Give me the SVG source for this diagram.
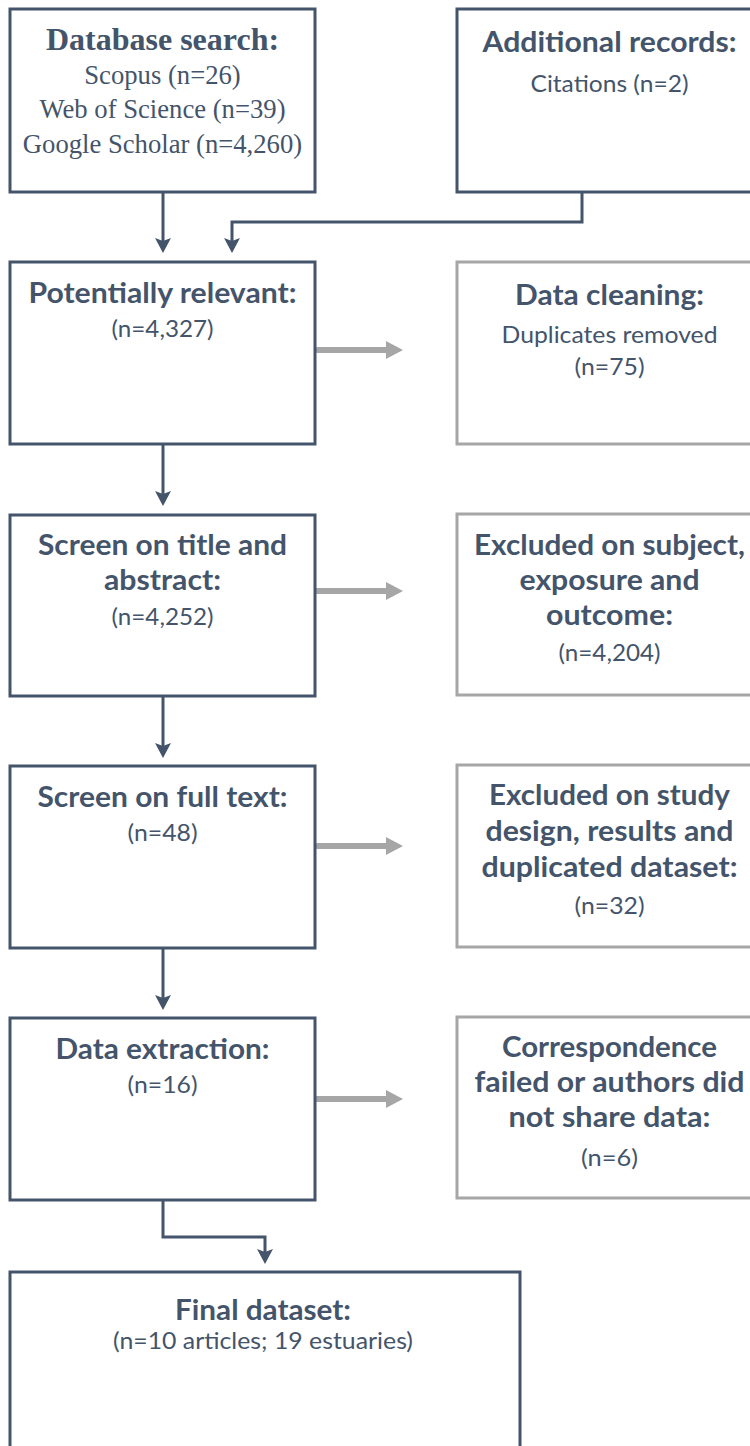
<svg xmlns="http://www.w3.org/2000/svg" width="750" height="1446" viewBox="0 0 750 1446">
  <style>
    .box { fill: #FFFFFF; stroke: #44546A; stroke-width: 3; }
    .gbox { fill: #FFFFFF; stroke: #A6A6A6; stroke-width: 3; }
    .t { font-family: Lato, "Open Sans", "Liberation Sans", sans-serif; fill: #44546A; text-anchor: middle; }
    .b { font-weight: 700; font-size: 29px; }
    .r { font-weight: 400; font-size: 24px; }
    .tb { font-family: "Liberation Serif", "Times New Roman", serif; font-weight: 700; font-size: 32px; fill: #44546A; text-anchor: middle; }
    .tr { font-family: "Liberation Serif", "Times New Roman", serif; font-weight: 400; font-size: 26.67px; fill: #44546A; text-anchor: middle; }
    .dk { fill: none; stroke: #44546A; stroke-width: 3; }
    .gr { fill: none; stroke: #A6A6A6; stroke-width: 6; }
  </style>
  <defs>
    <marker id="ahDark" markerUnits="userSpaceOnUse" markerWidth="16" markerHeight="18" viewBox="0 -9 16 18" refX="4" refY="0" orient="auto" overflow="visible">
      <path d="M0,-8 L15,0 L0,8 L3,0 Z" fill="#44546A"/>
    </marker>
    <marker id="ahGray" markerUnits="userSpaceOnUse" markerWidth="18" markerHeight="20" viewBox="0 -10 18 20" refX="2" refY="0" orient="auto" overflow="visible">
      <path d="M0,-9 L17,0 L0,9 Z" fill="#A6A6A6"/>
    </marker>
  </defs>
  <rect width="750" height="1446" fill="#FFFFFF"/>

  <g id="connectors">
    <path class="dk" d="M163,192 V242" marker-end="url(#ahDark)"/>
    <path class="dk" d="M582,192 V222 H232 V242" marker-end="url(#ahDark)"/>
    <path class="dk" d="M163,444 V495" marker-end="url(#ahDark)"/>
    <path class="dk" d="M163,696 V747" marker-end="url(#ahDark)"/>
    <path class="dk" d="M163,948 V999" marker-end="url(#ahDark)"/>
    <path class="dk" d="M163,1200 V1237 H265 V1253" marker-end="url(#ahDark)"/>
    <path class="gr" d="M316,350 H388" marker-end="url(#ahGray)"/>
    <path class="gr" d="M316,591 H388" marker-end="url(#ahGray)"/>
    <path class="gr" d="M316,846 H388" marker-end="url(#ahGray)"/>
    <path class="gr" d="M316,1099 H388" marker-end="url(#ahGray)"/>
  </g>

  <g id="database-search">
    <rect class="box" x="10" y="9" width="305" height="183"/>
    <text class="tb" x="162.5" y="49.5">Database search:</text>
    <text class="tr" x="162.5" y="83.5">Scopus (n=26)</text>
    <text class="tr" x="162.5" y="118">Web of Science (n=39)</text>
    <text class="tr" x="162.5" y="152.5">Google Scholar (n=4,260)</text>
  </g>

  <g id="additional-records">
    <rect class="box" x="457" y="9" width="305" height="183"/>
    <text class="t b" x="609.5" y="52" textLength="254" lengthAdjust="spacingAndGlyphs">Additional records:</text>
    <text class="t r" x="609.5" y="92" textLength="158" lengthAdjust="spacingAndGlyphs">Citations (n=2)</text>
  </g>

  <g id="potentially-relevant">
    <rect class="box" x="10" y="262" width="305" height="182"/>
    <text class="t b" x="162.5" y="303" textLength="268" lengthAdjust="spacingAndGlyphs">Potentially relevant:</text>
    <text class="t r" x="162.5" y="337" textLength="102" lengthAdjust="spacingAndGlyphs">(n=4,327)</text>
  </g>

  <g id="data-cleaning">
    <rect class="gbox" x="457" y="262" width="305" height="182"/>
    <text class="t b" x="609.5" y="305" textLength="189" lengthAdjust="spacingAndGlyphs">Data cleaning:</text>
    <text class="t r" x="609.5" y="343" textLength="216" lengthAdjust="spacingAndGlyphs">Duplicates removed</text>
    <text class="t r" x="609.5" y="375" textLength="70" lengthAdjust="spacingAndGlyphs">(n=75)</text>
  </g>

  <g id="screen-title-abstract">
    <rect class="box" x="10" y="515" width="305" height="181"/>
    <text class="t b" x="162.5" y="555" textLength="249" lengthAdjust="spacingAndGlyphs">Screen on title and</text>
    <text class="t b" x="162.5" y="590" textLength="117" lengthAdjust="spacingAndGlyphs">abstract:</text>
    <text class="t r" x="162.5" y="625" textLength="102" lengthAdjust="spacingAndGlyphs">(n=4,252)</text>
  </g>

  <g id="excluded-subject">
    <rect class="gbox" x="457" y="514" width="305" height="181"/>
    <text class="t b" x="609.5" y="555" textLength="271" lengthAdjust="spacingAndGlyphs">Excluded on subject,</text>
    <text class="t b" x="609.5" y="590" textLength="180" lengthAdjust="spacingAndGlyphs">exposure and</text>
    <text class="t b" x="609.5" y="625" textLength="127" lengthAdjust="spacingAndGlyphs">outcome:</text>
    <text class="t r" x="609.5" y="661" textLength="102" lengthAdjust="spacingAndGlyphs">(n=4,204)</text>
  </g>

  <g id="screen-full-text">
    <rect class="box" x="10" y="766" width="305" height="182"/>
    <text class="t b" x="162.5" y="807" textLength="250" lengthAdjust="spacingAndGlyphs">Screen on full text:</text>
    <text class="t r" x="162.5" y="841" textLength="70" lengthAdjust="spacingAndGlyphs">(n=48)</text>
  </g>

  <g id="excluded-study">
    <rect class="gbox" x="457" y="765" width="305" height="182"/>
    <text class="t b" x="609.5" y="805" textLength="241" lengthAdjust="spacingAndGlyphs">Excluded on study</text>
    <text class="t b" x="609.5" y="841" textLength="248" lengthAdjust="spacingAndGlyphs">design, results and</text>
    <text class="t b" x="609.5" y="877" textLength="256" lengthAdjust="spacingAndGlyphs">duplicated dataset:</text>
    <text class="t r" x="609.5" y="914" textLength="70" lengthAdjust="spacingAndGlyphs">(n=32)</text>
  </g>

  <g id="data-extraction">
    <rect class="box" x="10" y="1018" width="305" height="182"/>
    <text class="t b" x="162.5" y="1059" textLength="214" lengthAdjust="spacingAndGlyphs">Data extraction:</text>
    <text class="t r" x="162.5" y="1093" textLength="70" lengthAdjust="spacingAndGlyphs">(n=16)</text>
  </g>

  <g id="correspondence-failed">
    <rect class="gbox" x="457" y="1017" width="305" height="181"/>
    <text class="t b" x="609.5" y="1057" textLength="215" lengthAdjust="spacingAndGlyphs">Correspondence</text>
    <text class="t b" x="609.5" y="1092" textLength="270" lengthAdjust="spacingAndGlyphs">failed or authors did</text>
    <text class="t b" x="609.5" y="1127" textLength="202" lengthAdjust="spacingAndGlyphs">not share data:</text>
    <text class="t r" x="609.5" y="1166" textLength="57" lengthAdjust="spacingAndGlyphs">(n=6)</text>
  </g>

  <g id="final-dataset">
    <rect class="box" x="10" y="1272" width="510" height="200"/>
    <text class="t b" x="263" y="1320" textLength="176" lengthAdjust="spacingAndGlyphs">Final dataset:</text>
    <text class="t r" x="263" y="1349" textLength="300" lengthAdjust="spacingAndGlyphs">(n=10 articles; 19 estuaries)</text>
  </g>
</svg>
